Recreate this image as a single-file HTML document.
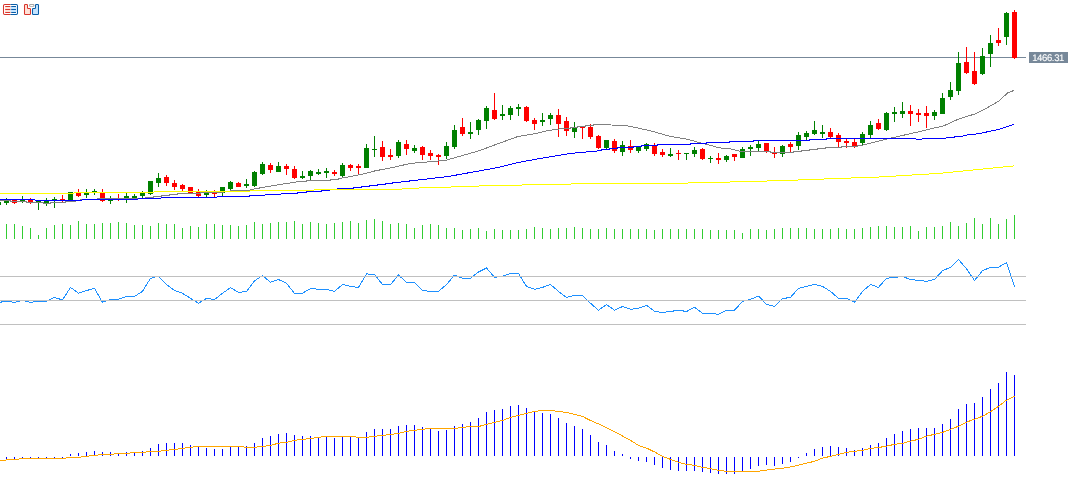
<!DOCTYPE html>
<html><head><meta charset="utf-8"><title>Chart</title>
<style>html,body{margin:0;padding:0;background:#fff;overflow:hidden}#c{position:relative;width:1070px;height:500px;background:#fff;overflow:hidden}svg{display:block}</style>
</head><body><div id="c">
<svg width="1070" height="500" viewBox="0 0 1070 500" shape-rendering="crispEdges">
<rect x="0" y="57" width="1026" height="1" fill="#778899"/>
<path d="M-2 202h1v3h-1zM-4 202h5v3h-5zM6 198h1v7h-1zM4 201h5v2h-5zM22 196h1v7h-1zM20 200h5v2h-5zM38 201h1v9h-1zM36 201h5v1h-5zM46 198h1v8h-1zM44 201h5v2h-5zM54 197h1v11h-1zM52 199h5v1h-5zM70 192h1v9h-1zM68 192h5v9h-5zM86 189h1v9h-1zM84 193h5v2h-5zM94 189h1v6h-1zM92 191h5v1h-5zM110 196h1v8h-1zM108 199h5v2h-5zM126 193h1v10h-1zM124 196h5v2h-5zM134 194h1v4h-1zM132 196h5v2h-5zM142 191h1v7h-1zM140 193h5v3h-5zM150 181h1v14h-1zM148 181h5v13h-5zM158 173h1v14h-1zM156 178h5v5h-5zM206 190h1v7h-1zM204 192h5v3h-5zM222 187h1v9h-1zM220 187h5v6h-5zM230 181h1v9h-1zM228 182h5v7h-5zM246 179h1v9h-1zM244 184h5v2h-5zM254 171h1v16h-1zM252 172h5v14h-5zM262 162h1v13h-1zM260 164h5v10h-5zM278 162h1v10h-1zM276 166h5v6h-5zM302 171h1v8h-1zM300 176h5v2h-5zM310 170h1v10h-1zM308 171h5v5h-5zM318 169h1v6h-1zM316 172h5v2h-5zM326 168h1v10h-1zM324 171h5v2h-5zM342 163h1v15h-1zM340 165h5v11h-5zM366 144h1v24h-1zM364 148h5v20h-5zM374 136h1v21h-1zM372 149h5v1h-5zM398 140h1v18h-1zM396 142h5v14h-5zM414 145h1v8h-1zM412 148h5v3h-5zM446 142h1v17h-1zM444 146h5v10h-5zM454 125h1v24h-1zM452 130h5v17h-5zM470 122h1v17h-1zM468 132h5v2h-5zM478 119h1v16h-1zM476 120h5v10h-5zM486 106h1v23h-1zM484 108h5v13h-5zM502 105h1v15h-1zM500 114h5v2h-5zM510 106h1v14h-1zM508 108h5v7h-5zM518 104h1v12h-1zM516 107h5v2h-5zM542 113h1v13h-1zM540 120h5v2h-5zM550 113h1v12h-1zM548 115h5v4h-5zM574 122h1v16h-1zM572 128h5v4h-5zM606 140h1v9h-1zM604 140h5v8h-5zM622 141h1v15h-1zM620 145h5v7h-5zM638 146h1v7h-1zM636 147h5v4h-5zM646 143h1v8h-1zM644 144h5v5h-5zM670 148h1v9h-1zM668 154h5v2h-5zM686 153h1v7h-1zM684 153h5v1h-5zM694 147h1v10h-1zM692 150h5v4h-5zM710 156h1v7h-1zM708 158h5v1h-5zM726 155h1v7h-1zM724 156h5v4h-5zM742 147h1v11h-1zM740 149h5v9h-5zM750 145h1v11h-1zM748 147h5v2h-5zM758 141h1v10h-1zM756 144h5v4h-5zM782 145h1v12h-1zM780 146h5v8h-5zM798 132h1v18h-1zM796 135h5v11h-5zM806 131h1v9h-1zM804 133h5v4h-5zM814 121h1v14h-1zM812 130h5v4h-5zM822 125h1v13h-1zM820 132h5v2h-5zM862 132h1v13h-1zM860 134h5v9h-5zM870 121h1v17h-1zM868 125h5v10h-5zM886 112h1v19h-1zM884 113h5v17h-5zM894 107h1v15h-1zM892 112h5v2h-5zM902 102h1v16h-1zM900 111h5v3h-5zM934 110h1v10h-1zM932 112h5v4h-5zM942 93h1v21h-1zM940 98h5v16h-5zM950 82h1v18h-1zM948 90h5v7h-5zM958 52h1v43h-1zM956 63h5v28h-5zM982 48h1v27h-1zM980 56h5v18h-5zM990 35h1v32h-1zM988 43h5v11h-5zM1006 12h1v33h-1zM1004 13h5v24h-5z" fill="#008000"/>
<path d="M14 200h1v4h-1zM12 200h5v3h-5zM30 198h1v6h-1zM28 200h5v2h-5zM62 195h1v7h-1zM60 199h5v1h-5zM78 189h1v8h-1zM76 193h5v3h-5zM102 189h1v13h-1zM100 193h5v8h-5zM118 194h1v7h-1zM116 198h5v1h-5zM166 175h1v11h-1zM164 177h5v6h-5zM174 180h1v10h-1zM172 183h5v4h-5zM182 184h1v7h-1zM180 185h5v4h-5zM190 187h1v6h-1zM188 187h5v6h-5zM198 189h1v8h-1zM196 191h5v5h-5zM214 190h1v7h-1zM212 192h5v2h-5zM238 182h1v5h-1zM236 183h5v4h-5zM270 163h1v10h-1zM268 165h5v5h-5zM286 164h1v11h-1zM284 166h5v3h-5zM294 166h1v13h-1zM292 169h5v9h-5zM334 170h1v6h-1zM332 172h5v2h-5zM350 164h1v7h-1zM348 165h5v3h-5zM358 164h1v10h-1zM356 166h5v2h-5zM382 141h1v20h-1zM380 147h5v10h-5zM390 149h1v11h-1zM388 155h5v2h-5zM406 140h1v15h-1zM404 144h5v5h-5zM422 146h1v14h-1zM420 147h5v8h-5zM430 150h1v10h-1zM428 153h5v3h-5zM438 154h1v11h-1zM436 155h5v2h-5zM462 118h1v18h-1zM460 127h5v7h-5zM494 93h1v27h-1zM492 110h5v9h-5zM526 106h1v16h-1zM524 107h5v14h-5zM534 118h1v12h-1zM532 120h5v4h-5zM558 109h1v28h-1zM556 115h5v9h-5zM566 117h1v19h-1zM564 121h5v10h-5zM582 127h1v12h-1zM580 127h5v1h-5zM590 124h1v15h-1zM588 127h5v10h-5zM598 135h1v14h-1zM596 136h5v12h-5zM614 139h1v14h-1zM612 141h5v10h-5zM630 140h1v13h-1zM628 146h5v4h-5zM654 143h1v13h-1zM652 145h5v9h-5zM662 149h1v8h-1zM660 152h5v3h-5zM678 150h1v10h-1zM676 153h5v1h-5zM702 148h1v12h-1zM700 149h5v10h-5zM718 153h1v11h-1zM716 158h5v2h-5zM734 154h1v7h-1zM732 154h5v3h-5zM766 143h1v10h-1zM764 143h5v8h-5zM774 147h1v11h-1zM772 153h5v1h-5zM790 142h1v10h-1zM788 144h5v3h-5zM830 128h1v10h-1zM828 132h5v5h-5zM838 133h1v14h-1zM836 135h5v7h-5zM846 139h1v9h-1zM844 141h5v2h-5zM854 139h1v9h-1zM852 142h5v4h-5zM878 119h1v11h-1zM876 123h5v6h-5zM910 105h1v21h-1zM908 111h5v3h-5zM918 109h1v13h-1zM916 113h5v2h-5zM926 106h1v22h-1zM924 113h5v3h-5zM966 47h1v27h-1zM964 62h5v11h-5zM974 52h1v33h-1zM972 71h5v13h-5zM998 28h1v18h-1zM996 40h5v3h-5zM1014 10h1v49h-1zM1012 12h5v46h-5z" fill="#ff0000"/>
<polyline points="0,200.5 10,200.5 11,201.5 26,201.5 27,202.5 43,202.5 44,203.5 50,203.5 51,202.5 65,202.5 66,201.5 74,201.5 78,200.4 84,199.4 97,199.4 98,198.4 134,198.4 145,198.4 146,197.5 153,197.5 154,196.4 161,196.4 162,195.4 169,195.4 170,194.4 177,194.4 178.5,193.4 200,193.4 201,192.6 222,192.4 226,191.5 234,190.6 249.5,190.6 251,189.6 256,188.6 262,187.6 272,185.8 293.6,182.4 300,181.5 306,181.5 307,180.5 330,180.5 331,179.5 338,179.5 339,178.5 343.7,177.8 353.8,175.9 363.9,173.8 375.7,170.7 390,168.1 410,163.5 440,160.8 446.6,160.1 478.7,150.9 500,143 517.6,136.6 530,134.6 536.8,133.3 545.2,131.2 553.6,129.8 562,128.5 570,128.5 571,127.5 577,127.5 578,126.5 585,126.5 586,125.5 593,125.5 594,124.5 605,124.5 611.3,125 627,125.7 650,130.7 670,136.3 686,139 697,141.9 705.3,144 717,147.2 723,148.4 730.5,148.5 731.4,149.4 736.5,150.2 740,151.4 770,151.4 771,152.5 793,152.5 794,151.5 801,151.5 802,150.5 809,150.5 810,149.5 817,149.5 818,148.5 825,148.5 826,147.5 841,147.5 842,146.5 857,146.5 858,145.5 862,145.2 893.6,137.5 918.6,131.8 936,127.6 943.5,125.9 958.5,119.1 974.8,114 983.6,109.8 990,106.2 998.6,101.3 1007.4,93.1 1014.3,90.3" fill="none" stroke="#808080" stroke-width="1"/>
<polyline points="0,199.5 34,199.5 36,200.5 81,200.5 83,199.5 137,199.5 140,198.4 160,198.4 163,197.4 216,197.4 219,196.4 249,196.4 250,195.3 265,195.3 266,194.3 281,194.3 282,193.3 297,193.3 298,192.4 306,192.4 307,191.5 321,191.5 322,190.5 329,190.5 330,189.5 337,189.5 338,188.5 353,188.5 354,187.5 361,187.5 362,186.5 369,186.5 370,185.5 377,185.5 378,184.5 385,184.5 386,183.5 390,183.3 448.8,176.4 499.6,167.2 518,162.6 535.5,159.3 571.4,153.3 594,151.3 601,150.5 602,149.5 609,149.5 610,148.5 617,148.5 618,147.5 633,147.5 634,146.5 641,146.5 642,145.5 657,145.5 658,144.5 690,144.5 691,143.4 706,143.4 707,142.4 729,142.4 730,141.4 753,141.4 754,140.4 809,140.4 810,139.3 826,139.3 827,138.4 914,138.4 917,139.3 921,139.3 923,138.4 945.5,138.4 947,137.5 954,137.2 956,136.2 963,136 965,135.2 977.3,133.9 990,131.3 998.6,129.5 1014.3,124.1" fill="none" stroke="#0000ff" stroke-width="1"/>
<polyline points="0,193.5 73,193.5 75,192.5 134,192.5 153,192.5 155,191.5 200,191.4 249,191.3 251,190.5 313,190.5 315,189.5 401,189.5 403,188.5 457.7,186.8 481.7,185.9 535.5,184.7 570,184.5 572,183.6 687,183.5 689,182.6 725,182.4 735,181.6 777.8,180.8 831.6,178.7 879.4,177 939.2,173.4 984,168.9 1014,165.9" fill="none" stroke="#ffff00" stroke-width="1"/>
<path d="M6 224h1v15h-1zM14 224h1v15h-1zM22 226h1v13h-1zM30 228h1v11h-1zM38 235h1v4h-1zM46 228h1v11h-1zM54 225h1v14h-1zM62 224h1v15h-1zM70 225h1v14h-1zM78 221h1v18h-1zM86 224h1v15h-1zM94 224h1v15h-1zM102 223h1v16h-1zM110 223h1v16h-1zM118 222h1v17h-1zM126 223h1v16h-1zM134 225h1v14h-1zM142 225h1v14h-1zM150 226h1v13h-1zM158 223h1v16h-1zM166 224h1v15h-1zM174 224h1v15h-1zM182 228h1v11h-1zM190 226h1v13h-1zM198 227h1v12h-1zM206 224h1v15h-1zM214 224h1v15h-1zM222 225h1v14h-1zM230 225h1v14h-1zM238 226h1v13h-1zM246 225h1v14h-1zM254 222h1v17h-1zM262 224h1v15h-1zM270 223h1v16h-1zM278 222h1v17h-1zM286 222h1v17h-1zM294 221h1v18h-1zM302 224h1v15h-1zM310 222h1v17h-1zM318 223h1v16h-1zM326 224h1v15h-1zM334 223h1v16h-1zM342 222h1v17h-1zM350 221h1v18h-1zM358 223h1v16h-1zM366 220h1v19h-1zM374 219h1v20h-1zM382 221h1v18h-1zM390 224h1v15h-1zM398 223h1v16h-1zM406 224h1v15h-1zM414 228h1v11h-1zM422 225h1v14h-1zM430 224h1v15h-1zM438 225h1v14h-1zM446 228h1v11h-1zM454 228h1v11h-1zM462 230h1v9h-1zM470 229h1v10h-1zM478 228h1v11h-1zM486 231h1v8h-1zM494 229h1v10h-1zM502 230h1v9h-1zM510 230h1v9h-1zM518 230h1v9h-1zM526 229h1v10h-1zM534 227h1v12h-1zM542 228h1v11h-1zM550 229h1v10h-1zM558 228h1v11h-1zM566 228h1v11h-1zM574 227h1v12h-1zM582 228h1v11h-1zM590 229h1v10h-1zM598 229h1v10h-1zM606 228h1v11h-1zM614 229h1v10h-1zM622 229h1v10h-1zM630 229h1v10h-1zM638 229h1v10h-1zM646 229h1v10h-1zM654 230h1v9h-1zM662 229h1v10h-1zM670 229h1v10h-1zM678 229h1v10h-1zM686 229h1v10h-1zM694 229h1v10h-1zM702 229h1v10h-1zM710 230h1v9h-1zM718 230h1v9h-1zM726 230h1v9h-1zM734 230h1v9h-1zM742 233h1v6h-1zM750 229h1v10h-1zM758 229h1v10h-1zM766 230h1v9h-1zM774 229h1v10h-1zM782 228h1v11h-1zM790 228h1v11h-1zM798 228h1v11h-1zM806 228h1v11h-1zM814 229h1v10h-1zM822 229h1v10h-1zM830 229h1v10h-1zM838 228h1v11h-1zM846 229h1v10h-1zM854 229h1v10h-1zM862 228h1v11h-1zM870 227h1v12h-1zM878 226h1v13h-1zM886 226h1v13h-1zM894 227h1v12h-1zM902 227h1v12h-1zM910 226h1v13h-1zM918 231h1v8h-1zM926 227h1v12h-1zM934 227h1v12h-1zM942 226h1v13h-1zM950 222h1v17h-1zM958 226h1v13h-1zM966 223h1v16h-1zM974 218h1v21h-1zM982 224h1v15h-1zM990 218h1v21h-1zM998 224h1v15h-1zM1006 219h1v20h-1zM1014 215h1v24h-1z" fill="#32cd32"/>
<polyline points="-1.5,302.5 6.5,301.2 14.5,302.3 22.5,300.5 30.5,302.3 38.5,301.4 46.5,301.4 54.5,297.4 62.5,300 70.5,287.4 78.5,293.3 86.5,290.6 94.5,288.3 102.5,302.3 110.5,299.3 118.5,299.3 126.5,296.4 134.5,296.4 142.5,291.4 150.5,278.3 158.5,276.2 166.5,284.5 174.5,290.6 182.5,293.3 190.5,298.3 198.5,303.3 206.5,298.3 214.5,299.6 222.5,293.3 230.5,287.7 238.5,292.4 246.5,291.4 254.5,280.8 262.5,275.6 270.5,282.3 278.5,279.5 286.5,283.3 294.5,293.3 302.5,293.3 310.5,288.5 318.5,289.3 326.5,289.3 334.5,291.4 342.5,284.5 350.5,286.4 358.5,287.4 366.5,273.9 374.5,274.5 382.5,284.5 390.5,284.5 398.5,275.1 406.5,282.3 414.5,282.3 422.5,290.6 430.5,291.4 438.5,291.4 446.5,284.5 454.5,275.1 462.5,278.3 470.5,278.3 478.5,272 486.5,268 494.5,277.3 502.5,276.2 510.5,273.5 518.5,273.5 526.5,286.4 534.5,289.3 542.5,287.4 550.5,284.5 558.5,291.4 566.5,297.4 574.5,295.4 582.5,295.4 590.5,303.3 598.5,310.2 606.5,304.6 614.5,310.2 622.5,306.5 630.5,309.3 638.5,308.3 646.5,305.3 654.5,311.2 662.5,312.5 670.5,311.5 678.5,310.2 686.5,311.5 694.5,307.3 702.5,313.3 710.5,313.3 718.5,314.3 726.5,310.2 734.5,310.2 742.5,301.4 750.5,299.3 758.5,296.1 766.5,304.3 774.5,306.5 782.5,298.6 790.5,297.4 798.5,288.3 806.5,286.4 814.5,284.5 822.5,286.4 830.5,291.4 838.5,298.3 846.5,298.3 854.5,302.3 862.5,291.4 870.5,284.5 878.5,287.4 886.5,278.3 894.5,277.3 902.5,276.6 910.5,279.4 918.5,280.4 926.5,281.3 934.5,279.4 942.5,270.7 950.5,267.3 958.5,259.4 966.5,268.8 974.5,280.4 982.5,270.7 990.5,267.3 998.5,267.3 1006.5,262.5 1014.5,286.6" fill="none" stroke="#1e90ff" stroke-width="1"/>
<rect x="0" y="276" width="1026" height="1" fill="#c0c0c0"/>
<rect x="0" y="300" width="1026" height="1" fill="#c0c0c0"/>
<rect x="0" y="324" width="1026" height="1" fill="#c0c0c0"/>
<path d="M6 457h1v2h-1zM14 457h1v2h-1zM22 457h1v1h-1zM30 457h1v1h-1zM38 457h1v1h-1zM46 457h1v1h-1zM54 457h1v1h-1zM62 457h1v1h-1zM70 454h1v2h-1zM78 453h1v3h-1zM86 452h1v4h-1zM94 451h1v5h-1zM102 452h1v4h-1zM110 452h1v4h-1zM118 454h1v2h-1zM126 452h1v4h-1zM134 452h1v4h-1zM142 451h1v5h-1zM150 448h1v8h-1zM158 444h1v12h-1zM166 443h1v13h-1zM174 443h1v13h-1zM182 443h1v13h-1zM190 445h1v11h-1zM198 447h1v9h-1zM206 448h1v8h-1zM214 449h1v7h-1zM222 449h1v7h-1zM230 447h1v9h-1zM238 447h1v9h-1zM246 446h1v10h-1zM254 443h1v13h-1zM262 438h1v18h-1zM270 436h1v20h-1zM278 434h1v22h-1zM286 433h1v23h-1zM294 435h1v21h-1zM302 436h1v20h-1zM310 436h1v20h-1zM318 438h1v18h-1zM326 437h1v19h-1zM334 438h1v18h-1zM342 437h1v19h-1zM350 437h1v19h-1zM358 438h1v18h-1zM366 432h1v24h-1zM374 429h1v27h-1zM382 429h1v27h-1zM390 429h1v27h-1zM398 426h1v30h-1zM406 425h1v31h-1zM414 425h1v31h-1zM422 427h1v29h-1zM430 429h1v27h-1zM438 431h1v25h-1zM446 430h1v26h-1zM454 426h1v30h-1zM462 424h1v32h-1zM470 422h1v34h-1zM478 418h1v38h-1zM486 412h1v44h-1zM494 410h1v46h-1zM502 409h1v47h-1zM510 406h1v50h-1zM518 405h1v51h-1zM526 408h1v48h-1zM534 412h1v44h-1zM542 413h1v43h-1zM550 414h1v42h-1zM558 418h1v38h-1zM566 423h1v33h-1zM574 426h1v30h-1zM582 429h1v27h-1zM590 435h1v21h-1zM598 442h1v14h-1zM606 445h1v11h-1zM614 451h1v5h-1zM622 454h1v2h-1zM630 457h1v2h-1zM638 457h1v4h-1zM646 457h1v5h-1zM654 457h1v8h-1zM662 457h1v11h-1zM670 457h1v13h-1zM678 457h1v14h-1zM686 457h1v14h-1zM694 457h1v14h-1zM702 457h1v15h-1zM710 457h1v16h-1zM718 457h1v17h-1zM726 457h1v17h-1zM734 457h1v17h-1zM742 457h1v14h-1zM750 457h1v12h-1zM758 457h1v9h-1zM766 457h1v8h-1zM774 457h1v9h-1zM782 457h1v7h-1zM790 457h1v5h-1zM798 457h1v1h-1zM806 453h1v3h-1zM814 449h1v7h-1zM822 447h1v9h-1zM830 446h1v10h-1zM838 447h1v9h-1zM846 448h1v8h-1zM854 450h1v6h-1zM862 448h1v8h-1zM870 445h1v11h-1zM878 443h1v13h-1zM886 438h1v18h-1zM894 434h1v22h-1zM902 431h1v25h-1zM910 429h1v27h-1zM918 428h1v28h-1zM926 428h1v28h-1zM934 428h1v28h-1zM942 424h1v32h-1zM950 419h1v37h-1zM958 409h1v47h-1zM966 404h1v52h-1zM974 403h1v53h-1zM982 397h1v59h-1zM990 389h1v67h-1zM998 383h1v73h-1zM1006 372h1v84h-1zM1014 375h1v81h-1z" fill="#0000ff"/>
<polyline points="-1.5,460.5 6.5,460 14.5,459.5 22.5,458.6 30.5,458.6 38.5,458.6 46.5,458.6 54.5,458.6 62.5,458.6 70.5,457.3 78.5,457.3 86.5,456.3 94.5,455.4 102.5,454.4 110.5,454.4 118.5,453.4 126.5,453.4 134.5,452.6 142.5,452.5 150.5,451.3 158.5,451.3 166.5,450.3 174.5,449.4 182.5,448.4 190.5,447.3 198.5,446.3 206.5,446.3 214.5,446.3 222.5,446.3 230.5,446.3 238.5,446.3 246.5,447.3 254.5,447.3 262.5,446.5 270.5,445.4 278.5,443.2 286.5,442.3 294.5,440.3 302.5,439.4 310.5,438.6 318.5,437.3 326.5,436.3 334.5,436.3 342.5,436.3 350.5,436.3 358.5,437.3 366.5,437.3 374.5,436.3 382.5,435.4 390.5,434.5 398.5,433.4 406.5,431.4 414.5,430.3 422.5,429.3 430.5,428.4 438.5,428.4 446.5,428.4 454.5,428.4 462.5,427.4 470.5,426.6 478.5,426.6 486.5,424.3 494.5,422.4 502.5,420.5 510.5,417.4 518.5,415.5 526.5,413.3 534.5,411.4 542.5,410.5 550.5,410.5 558.5,411.4 566.5,412.4 574.5,414.3 582.5,416.4 590.5,420.5 598.5,423.9 606.5,427.8 614.5,431.6 622.5,436 630.5,440.4 638.5,445.4 646.5,448.1 654.5,451.9 662.5,456.3 670.5,459.4 678.5,462.3 686.5,464.4 694.5,465.3 702.5,467.3 710.5,468.6 718.5,470.3 726.5,471.3 734.5,471.3 742.5,471.3 750.5,471.3 758.5,471.3 766.5,470.1 774.5,469.1 782.5,468.2 790.5,467 798.5,465.1 806.5,463.2 814.5,461.3 822.5,458.2 830.5,456.3 838.5,454.4 846.5,452.3 854.5,451.3 862.5,450.3 870.5,448.5 878.5,447.5 886.5,446.2 894.5,444.3 902.5,443.3 910.5,441.2 918.5,439.3 926.5,436.2 934.5,434.3 942.5,432.4 950.5,429.3 958.5,426.2 966.5,422.1 974.5,419.2 982.5,416.3 990.5,411.8 998.5,406.3 1006.5,400.1 1014.5,396.1" fill="none" stroke="#ffa500" stroke-width="1"/>
<rect x="1029" y="52" width="39" height="11" fill="#778899"/>
<text x="1048.100" y="61" text-anchor="middle" font-family="Liberation Sans, sans-serif" font-size="9.500" fill="#fff" stroke="#fff" stroke-width="0.120" letter-spacing="-0.350" text-rendering="geometricPrecision">1466.31</text>
</svg>
<svg width="44" height="20" viewBox="0 0 44 20" style="position:absolute;left:0;top:0">
<rect x="5" y="7" width="5.500" height="5" fill="#ffe2d8"/><rect x="10.500" y="7" width="6" height="5" fill="#c4e4ff"/>
<path d="M10.500 4.500H4.700a1.200 1.200 0 0 0-1.200 1.200V13.300a1.200 1.200 0 0 0 1.200 1.200H10.500" fill="none" stroke="#d8352c" stroke-width="1.050"/>
<path d="M10.500 4.500H16.300a1.200 1.200 0 0 1 1.200 1.200V13.300a1.200 1.200 0 0 1-1.200 1.200H10.500" fill="none" stroke="#0a5ea8" stroke-width="1.050"/>
<path d="M5.600 6.500h4.400M5.600 9.500h4.400M5.600 12.500h4.400" stroke="#d8352c" stroke-width="1" stroke-linecap="round" fill="none"/>
<path d="M11.600 6.500h4M11.600 9.500h4M11.600 12.500h4" stroke="#0a5ea8" stroke-width="1" stroke-linecap="round" fill="none"/>
<path d="M25.300 4.500H26.700a.8.8 0 0 1 .8.800V7.700a.8.8 0 0 0 .8.800H29.700a.8.8 0 0 1 .8.800V13.700a.8.8 0 0 1-.8.800H25.300a.8.8 0 0 1-.8-.8V5.300a.8.8 0 0 1 .8-.8z" fill="#ffe2d8" stroke="#d8352c" stroke-width="1.050"/>
<path d="M37.700 4.500H36.300a.8.8 0 0 0-.8.800V7.700a.8.8 0 0 1-.8.800H33.300a.8.8 0 0 0-.8.800V13.700a.8.8 0 0 0 .8.800H37.700a.8.8 0 0 0 .8-.8V5.300a.8.8 0 0 0-.8-.8z" fill="#c4e4ff" stroke="#0a5ea8" stroke-width="1.050"/>
<rect x="29.100" y="4" width="5.300" height="2.800" rx="1" fill="#a6a6a6"/><rect x="30.100" y="5" width="3.300" height="0.900" rx="0.300" fill="#fff"/>
</svg>
</div></body></html>
